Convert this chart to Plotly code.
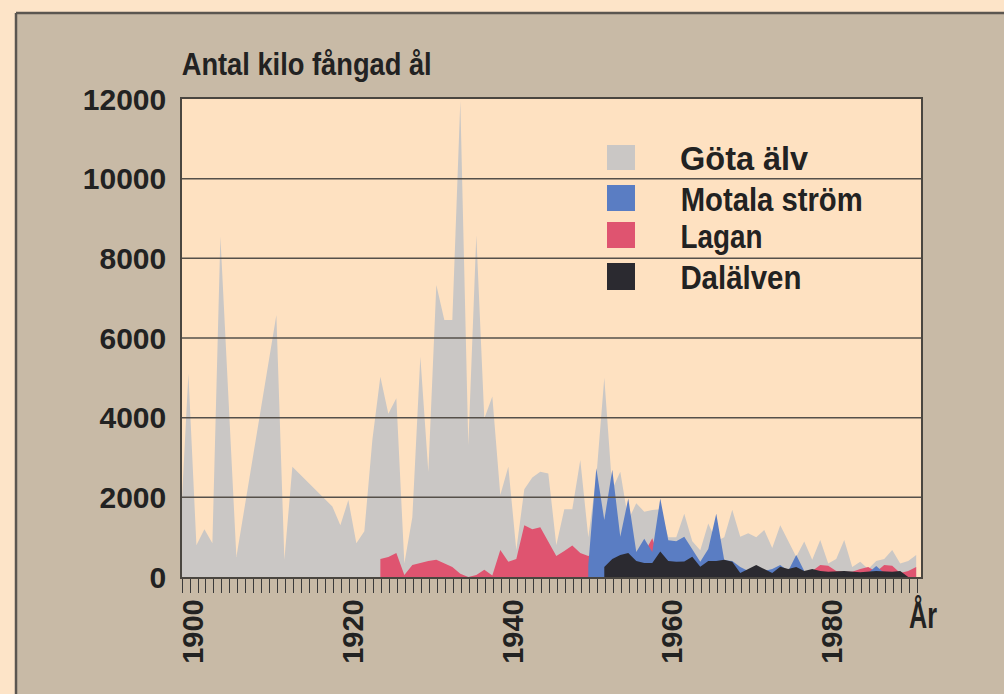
import json
import plotly.graph_objects as go

# ---------------- data (kg of eel caught per year) ----------------
gota_years = [1899, 1900, 1901, 1902, 1903, 1904, 1906, 1911, 1912, 1913, 1918, 1919, 1920,
              1921, 1922, 1923, 1924, 1925, 1926, 1927, 1928, 1929, 1930, 1931, 1932, 1933,
              1934, 1935, 1936, 1937, 1938, 1939, 1940, 1941, 1942, 1943, 1944, 1945, 1946,
              1947, 1948, 1949, 1950, 1951, 1952, 1953, 1954, 1955, 1956, 1957, 1958, 1959,
              1960, 1961, 1962, 1963, 1964, 1965, 1966, 1967, 1968, 1969, 1970, 1971, 1972,
              1973, 1974, 1975, 1976, 1977, 1978, 1979, 1980, 1981, 1982, 1983, 1984, 1985,
              1986, 1987, 1988, 1989, 1990, 1991]
gota_vals = [1200, 5100, 800, 1200, 850, 8550, 500, 6580, 430, 2770, 1770, 1300, 1930,
             850, 1150, 3440, 5030, 4100, 4490, 340, 1500, 5530, 2640, 7330, 6450, 6450,
             11950, 3310, 8580, 3980, 4530, 2060, 2770, 680, 2200, 2500, 2640, 2600, 800,
             1700, 1700, 2940, 1000, 2500, 5000, 2200, 2640, 1430, 1850, 1640, 1680, 1700,
             1000, 1000, 1590, 900, 670, 1340, 900, 1000, 1690, 1010, 1100, 1000, 1180,
             730, 1300, 900, 510, 890, 430, 930, 340, 450, 930, 250, 385, 200,
             400, 450, 680, 340, 400, 550]

lagan_years = [1924, 1925, 1926, 1927, 1928, 1929, 1930, 1931, 1932, 1933, 1934, 1935, 1936,
               1937, 1938, 1939, 1940, 1941, 1942, 1943, 1944, 1945, 1946, 1947, 1948, 1949,
               1950, 1951, 1952, 1953, 1954, 1955, 1956, 1957, 1958, 1959, 1960, 1977, 1978,
               1979, 1980, 1981, 1982, 1983, 1984, 1985, 1986, 1987, 1988, 1989, 1990, 1991]
lagan_vals = [450, 500, 600, 50, 300, 350, 400, 430, 350, 250, 80, 0, 50,
              180, 40, 680, 385, 450, 1300, 1200, 1250, 900, 530, 650, 790, 600,
              530, 600, 845, 500, 400, 350, 400, 600, 970, 400, 150, 100, 150,
              300, 280, 150, 130, 130, 200, 250, 130, 300, 280, 100, 150, 250]

motala_years = [1950, 1951, 1952, 1953, 1954, 1955, 1956, 1957, 1958, 1959, 1960, 1961, 1962,
                1963, 1964, 1965, 1966, 1967, 1968, 1969, 1970, 1971, 1972, 1973, 1974, 1975,
                1976, 1977, 1978, 1985, 1986, 1987, 1988]
motala_vals = [300, 2730, 1430, 2690, 1010, 1970, 630, 960, 630, 1970, 920, 900, 1010,
               700, 385, 700, 1590, 420, 400, 250, 150, 200, 150, 200, 300, 150,
               550, 150, 100, 100, 275, 100, 80]

dal_years = [1952, 1953, 1954, 1955, 1956, 1957, 1958, 1959, 1960, 1961, 1962, 1963, 1964,
             1965, 1966, 1967, 1968, 1969, 1970, 1971, 1972, 1973, 1974, 1975, 1976, 1977,
             1978, 1979, 1980, 1982, 1984, 1986, 1988, 1989, 1990]
dal_vals = [250, 450, 550, 600, 400, 350, 350, 640, 400, 380, 390, 510, 260,
            400, 400, 430, 385, 100, 200, 300, 200, 100, 260, 200, 250, 150,
            200, 150, 130, 150, 120, 150, 130, 150, 0]

series_names = ["Göta älv", "Motala ström", "Lagan", "Dalälven"]
y_ticks = [0, 2000, 4000, 6000, 8000, 10000, 12000]
x_label_years = [1900, 1920, 1940, 1960, 1980]
title_text = "Antal kilo fångad ål"
x_unit_text = "År"

# ---------------- styling ----------------
W, H = 1004, 694
ML, MR, MT, MB = 182, 83, 99, 117
PW, PH = W - ML - MR, H - MT - MB

TAN = "#c8baa6"
PEACH = "#fee1c1"
OUTER = "#fde4c8"
C_GOTA = "#cac7c5"
C_MOTALA = "#5a7dc3"
C_LAGAN = "#df5470"
C_DAL = "#2b2a30"
INK = "#222222"
SANS = "Liberation Sans, Arial, Helvetica, sans-serif"


def px_x(p):
    return (p - ML) / PW


def px_y(p):
    return (H - MB - p) / PH


fig = go.Figure()
colors = {"Göta älv": C_GOTA, "Motala ström": C_MOTALA, "Lagan": C_LAGAN, "Dalälven": C_DAL}
for name, xs, ys in [("Göta älv", gota_years, gota_vals),
                     ("Lagan", lagan_years, lagan_vals),
                     ("Motala ström", motala_years, motala_vals),
                     ("Dalälven", dal_years, dal_vals)]:
    fig.add_trace(go.Scatter(x=xs, y=ys, mode="lines", name=name,
                             line=dict(width=0, color=colors[name]),
                             fill="tozeroy", fillcolor=colors[name],
                             showlegend=False, hoverinfo="skip"))

shapes = []
# outer peach band and box border
shapes.append(dict(type="rect", xref="paper", yref="paper", x0=-1, x1=2,
                   y0=px_y(13), y1=px_y(-50), fillcolor=OUTER, line=dict(width=0), layer="below"))
shapes.append(dict(type="rect", xref="paper", yref="paper", x0=-1, x1=px_x(16),
                   y0=px_y(800), y1=px_y(-50), fillcolor=OUTER, line=dict(width=0), layer="below"))
shapes.append(dict(type="line", xref="paper", yref="paper", x0=px_x(16), x1=px_x(1010),
                   y0=px_y(13), y1=px_y(13), line=dict(color="#5b5650", width=2.5)))
shapes.append(dict(type="line", xref="paper", yref="paper", x0=px_x(16), x1=px_x(16),
                   y0=px_y(13), y1=px_y(700), line=dict(color="#5b5650", width=2.5)))
# grid lines drawn above the areas
for v in y_ticks[1:-1]:
    shapes.append(dict(type="line", xref="paper", yref="y", x0=0, x1=1, y0=v, y1=v,
                       line=dict(color="#55504a", width=1.5), layer="above"))

# condensed text target widths (px)
narrow_widths = {title_text: 250, "Göta älv": 128, "Motala ström": 182,
                 "Lagan": 82, "Dalälven": 121, x_unit_text: 28}

# manual legend
legend_rows = [(145, 170), (185, 211), (222, 248), (263, 290)]
annotations = []
TEXT_LEFT = 680
for name, (t, b) in zip(series_names, legend_rows):
    shapes.append(dict(type="rect", xref="paper", yref="paper", x0=px_x(607), x1=px_x(635),
                       y0=px_y(b), y1=px_y(t), fillcolor=colors[name], line=dict(width=0)))
    annotations.append(dict(text=name, xref="paper", yref="paper",
                            x=px_x(TEXT_LEFT + narrow_widths[name] / 2),
                            y=px_y((t + b) / 2 + 1), xanchor="center", yanchor="middle",
                            showarrow=False,
                            font=dict(family=SANS, size=33, color=INK, weight="bold")))

annotations.append(dict(text=title_text, xref="paper", yref="paper",
                        x=px_x(181 + narrow_widths[title_text] / 2), y=px_y(64),
                        xanchor="center", yanchor="middle", showarrow=False,
                        font=dict(family=SANS, size=32, color=INK, weight="bold")))
annotations.append(dict(text=x_unit_text, xref="paper", yref="paper",
                        x=px_x(923), y=px_y(615), xanchor="center", yanchor="middle",
                        showarrow=False,
                        font=dict(family=SANS, size=36, color=INK, weight="bold")))

fig.update_layout(
    width=W, height=H,
    margin=dict(l=ML, r=MR, t=MT, b=MB, autoexpand=False),
    paper_bgcolor=TAN, plot_bgcolor=PEACH,
    shapes=shapes, annotations=annotations, showlegend=False,
)
fig.update_xaxes(range=[1899.2, 1991.6], tickmode="array",
                 tickvals=[y + 0.6 for y in x_label_years],
                 ticktext=[str(y) for y in x_label_years],
                 tickangle=-90, ticks="", ticklabelstandoff=9,
                 tickfont=dict(family=SANS, size=29, color=INK, weight="bold"),
                 minor=dict(ticks="outside", ticklen=14, tickwidth=1, tickcolor="#3a3a3a",
                            tickmode="linear", tick0=1899.2, dtick=1, showgrid=False),
                 showgrid=False, zeroline=False, showline=True, mirror=True,
                 linecolor="#4a4640", linewidth=1.5, automargin=False)
fig.update_yaxes(range=[0, 12000], tickmode="array", tickvals=y_ticks,
                 ticktext=[str(v) for v in y_ticks], ticks="", ticklabelstandoff=8,
                 tickfont=dict(family=SANS, size=30, color=INK, weight="bold"),
                 showgrid=False, zeroline=False, showline=True, mirror=True,
                 linecolor="#4a4640", linewidth=1.5, automargin=False)

post = """
document.body.style.margin = '0';
var widths = %s;
var gd = document.getElementById('{plot_id}');
gd.querySelectorAll('.annotation-text').forEach(function(t) {
  var w = widths[t.textContent];
  if (w) {
    t.setAttribute('textLength', w);
    t.setAttribute('lengthAdjust', 'spacingAndGlyphs');
  }
});
""" % json.dumps(narrow_widths, ensure_ascii=False)

fig.write_html("out.html", post_script=post, config={"displayModeBar": False})
